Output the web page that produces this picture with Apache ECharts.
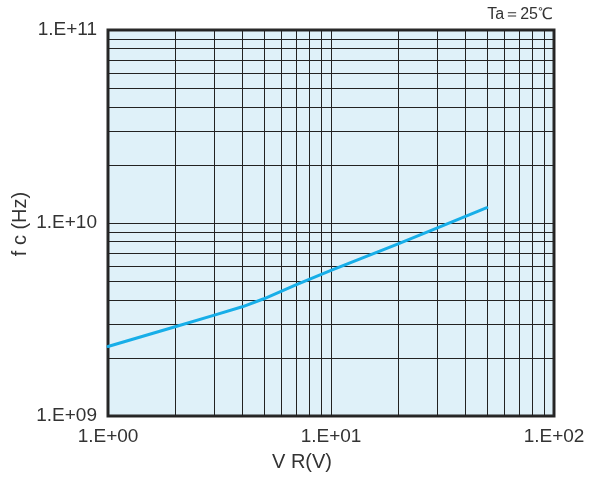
<!DOCTYPE html>
<html>
<head>
<meta charset="utf-8">
<script src="https://cdn.jsdelivr.net/npm/echarts@6/dist/echarts.min.js"></script>
<style>
html,body{margin:0;padding:0;background:#fff;}
#chart{width:590px;height:477px;}
</style>
</head>
<body>
<div id="chart"></div>
<script>
// Data
var vrValues = [1, 2, 3, 4, 5, 7, 10, 20, 30, 50];
var fcValues = [2.29e9, 2.90e9, 3.33e9, 3.68e9, 4.05e9, 4.79e9, 5.69e9, 7.80e9, 9.44e9, 1.2e10];
var xMinorLines = [2, 3, 4, 5, 6, 7, 8, 9, 20, 30, 40, 50, 60, 70, 80, 90];
var yMinorLines = [2e9, 3e9, 4e9, 5e9, 6e9, 7e9, 8e9, 9e9, 2e10, 3e10, 4e10, 5e10, 6e10, 7e10, 8e10, 9e10];
var xAxisTitle = 'V R(V)';
var yAxisTitle = 'f c (Hz)';
var noteText = 'Ta＝25℃';

function sciLabel(v) {
  var e = Math.round(Math.log10(v));
  var s = (e < 10 ? '0' : '') + e;
  return '1.E+' + s;
}

var FONT = 'Liberation Sans, Arial, sans-serif';
var curve = vrValues.map(function (x, i) { return [x, fcValues[i]]; });
var gridLineStyle = { color: '#222', width: 1, type: 'solid' };
var markData = xMinorLines.map(function (v) { return { xAxis: v }; })
  .concat(yMinorLines.map(function (v) { return { yAxis: v }; }));

var chart = echarts.init(document.getElementById('chart'), null, { renderer: 'canvas' });
chart.setOption({
  animation: false,
  textStyle: { fontFamily: FONT },
  grid: {
    left: 108, right: 36, top: 30, bottom: 61,
    show: true, backgroundColor: '#dff1f9', borderColor: '#2a2a2a', borderWidth: 3
  },
  xAxis: {
    type: 'log', logBase: 10, min: 1, max: 100,
    axisLine: { show: false }, axisTick: { show: false },
    splitLine: { show: true, lineStyle: gridLineStyle },
    minorTick: { show: false }, minorSplitLine: { show: false },
    axisLabel: { formatter: sciLabel, color: '#333', fontSize: 19, margin: 11, showMinLabel: true, showMaxLabel: true }
  },
  yAxis: {
    type: 'log', logBase: 10, min: 1e9, max: 1e11,
    axisLine: { show: false }, axisTick: { show: false },
    splitLine: { show: true, lineStyle: gridLineStyle },
    minorTick: { show: false }, minorSplitLine: { show: false },
    axisLabel: { formatter: sciLabel, color: '#333', fontSize: 19, margin: 11, showMinLabel: true, showMaxLabel: true }
  },
  graphic: [
    { type: 'text', left: 272, top: 452, style: { text: xAxisTitle, fill: '#333', fontSize: 20, fontFamily: FONT } },
    { type: 'text', x: 20, y: 224, rotation: Math.PI / 2, style: { text: yAxisTitle, fill: '#333', fontSize: 20, align: 'center', verticalAlign: 'middle', fontFamily: FONT } },
    { type: 'text', right: 37, top: 7, style: { text: noteText, fill: '#333', fontSize: 16, fontFamily: FONT } }
  ],
  series: [
    {
      type: 'line', data: [], z: 1, silent: true,
      markLine: {
        silent: true, symbol: 'none', animation: false,
        label: { show: false },
        lineStyle: gridLineStyle,
        emphasis: { disabled: true },
        data: markData
      }
    },
    {
      type: 'line', data: curve, z: 5, smooth: false, showSymbol: false,
      lineStyle: { color: '#17aee8', width: 3, join: 'round', cap: 'round' },
      itemStyle: { color: '#17aee8' }
    }
  ]
});
</script>
</body>
</html>
